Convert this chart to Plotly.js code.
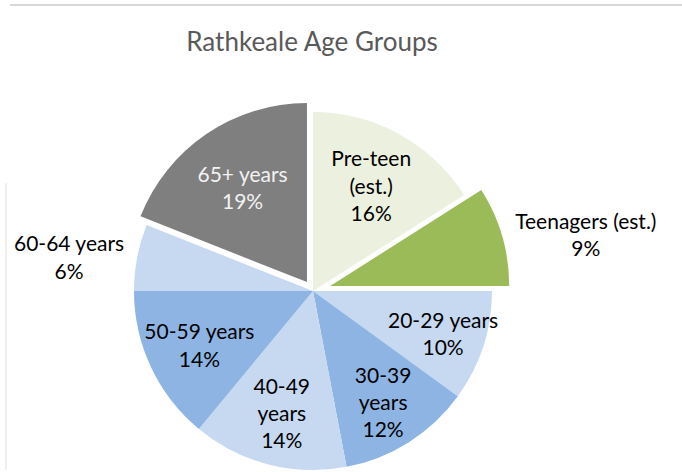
<!DOCTYPE html>
<html>
<head>
<meta charset="utf-8">
<script src="https://cdn.plot.ly/plotly-3.0.1.min.js"></script>
<style>
  html, body { margin: 0; padding: 0; overflow: hidden; background: #fff; }
  #wrap { width: 682px; height: 472px; overflow: hidden; }
</style>
</head>
<body>
<div id="wrap"><div id="chart"></div></div>
<script>
// Rathkeale age groups, clockwise from 12 o'clock
var groups = ["Pre-teen (est.)", "Teenagers (est.)", "20-29 years", "30-39 years",
              "40-49 years", "50-59 years", "60-64 years", "65+ years"];
var shares = [16, 9, 10, 12, 14, 14, 6, 19];
var labelText = ["Pre-teen<br>(est.)", "Teenagers (est.)", "20-29 years", "30-39<br>years",
                 "40-49<br>years", "50-59 years", "60-64 years", "65+ years"];
var sliceColors = ["#EBF1DE", "#9BBB59", "#C6D9F1", "#8DB4E2",
                   "#C6D9F1", "#8DB4E2", "#C6D9F1", "#7F7F7F"];
var pulls = [0, 0.1, 0, 0, 0, 0, 0, 0.06];
var textPos = ["inside", "outside", "inside", "inside", "inside", "inside", "outside", "inside"];
var textColors = ["#000", "#000", "#000", "#000", "#000", "#000", "#000", "#F2F2F2"];

var W = 682, H = 490;   // plot is a bit taller than the window, bottom gets clipped
var cx = 313, cy = 291, r = 179;
var half = r * 1.1;
var fontFam = "Lato, 'Open Sans', sans-serif";

var trace = {
    type: "pie",
    labels: groups,
    values: shares,
    sort: false,
    direction: "clockwise",
    rotation: 0,
    pull: pulls,
    marker: { colors: sliceColors, line: { width: 0 } },
    texttemplate: labelText.map(function(t) { return t + "<br>%{percent:.0%}"; }),
    textposition: textPos,
    insidetextorientation: "horizontal",
    textfont: { family: fontFam, size: 21, color: textColors },
    hoverinfo: "none",
    showlegend: false,
    domain: {
        x: [(cx - half) / W, (cx + half) / W],
        y: [(H - (cy + half)) / H, (H - (cy - half)) / H]
    }
};

var layout = {
    width: W,
    height: H,
    margin: { l: 0, r: 0, t: 0, b: 0 },
    paper_bgcolor: "#fff",
    uniformtext: { mode: "show", minsize: 21 },
    title: {
        text: "Rathkeale Age Groups",
        font: { family: fontFam, size: 26, color: "#595959" },
        x: 312 / W, xanchor: "center",
        y: 1 - 42 / H, yanchor: "middle", xref: "paper", yref: "container"
    },
    shapes: [
        // stray frame lines from the original screenshot
        { type: "line", xref: "paper", yref: "paper", x0: 10 / W, x1: 1, y0: 1 - 5 / H, y1: 1 - 5 / H,
          line: { color: "#D9D9D9", width: 2 } },
        { type: "line", xref: "paper", yref: "paper", x0: 6 / W, x1: 6 / W, y0: 1 - 183 / H, y1: 1 - 470 / H,
          line: { color: "#E0E0E0", width: 1 } }
    ]
};

Plotly.newPlot("chart", [trace], layout, { displayModeBar: false, staticPlot: true });
</script>
</body>
</html>
